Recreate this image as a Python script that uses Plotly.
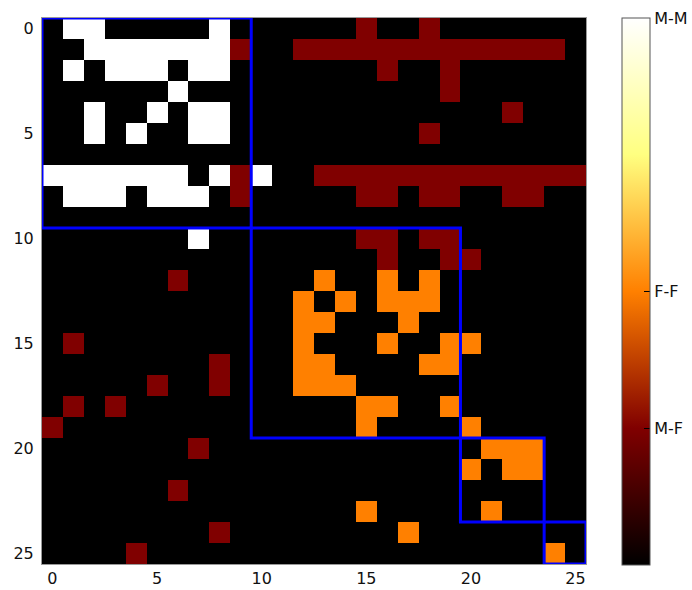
import plotly.graph_objects as go

n = 26
# category codes
NONE, MF, FF, MM = 0, 1, 2, 4
cbar_vals = [1, 2, 4]
cbar_text = ["M-F", "F-F", "M-M"]

# M-M cells: row -> columns
mm_cells = {
    0: [1, 2, 8],
    1: [2, 3, 4, 5, 6, 7, 8],
    2: [1, 3, 4, 5, 7, 8],
    3: [6],
    4: [2, 5, 7, 8],
    5: [2, 4, 7, 8],
    7: [0, 1, 2, 3, 4, 5, 6, 8, 10],
    8: [1, 2, 3, 5, 6, 7],
    10: [7],
}
# M-F cells
mf_cells = {
    0: [15, 18],
    1: [9] + list(range(12, 25)),
    2: [16, 19],
    3: [19],
    4: [22],
    5: [18],
    7: [9] + list(range(13, 26)),
    8: [9, 15, 16, 18, 19, 22, 23],
    10: [15, 16, 18, 19],
    11: [16, 19, 20],
    12: [6],
    15: [1],
    16: [8],
    17: [5, 8],
    18: [1, 3],
    19: [0],
    20: [7],
    22: [6],
    24: [8],
    25: [4],
}
# F-F cells
ff_cells = {
    12: [13, 16, 18],
    13: [12, 14, 16, 17, 18],
    14: [12, 13, 17],
    15: [12, 16, 19, 20],
    16: [12, 13, 18, 19],
    17: [12, 13, 14],
    18: [15, 16, 19],
    19: [15, 20],
    20: [21, 22, 23],
    21: [20, 22, 23],
    23: [15, 21],
    24: [17],
    25: [24],
}
# group boundaries (blue boxes)
group_bounds = [0, 10, 20, 24, 26]

z = [[NONE] * n for _ in range(n)]
for cells, code in ((mm_cells, MM), (mf_cells, MF), (ff_cells, FF)):
    for r, cols in cells.items():
        for c in cols:
            z[r][c] = code

afmhot = [
    [0.0, "rgb(0,0,0)"],
    [0.25, "rgb(128,0,0)"],
    [0.5, "rgb(255,128,0)"],
    [0.75, "rgb(255,255,128)"],
    [1.0, "rgb(255,255,255)"],
]

fig = go.Figure()
fig.add_trace(go.Heatmap(
    z=z, x=list(range(n)), y=list(range(n)),
    colorscale=afmhot, zmin=0, zmax=4,
    hoverinfo="skip",
    colorbar=dict(
        x=(621.5 - 42) / 544, xanchor="left", xpad=0,
        y=1, yanchor="top", ypad=0,
        len=547, lenmode="pixels",
        thickness=28, thicknessmode="pixels",
        outlinecolor="#555", outlinewidth=1,
        tickvals=cbar_vals, ticktext=cbar_text,
        ticks="inside", ticklen=6, tickcolor="#000", tickwidth=1,
        tickfont=dict(family="DejaVu Sans", size=16, color="#111"),
    ),
))

for a, b in zip(group_bounds[:-1], group_bounds[1:]):
    fig.add_shape(type="rect", xref="x", yref="y",
                  x0=a - 0.5, x1=b - 0.5, y0=a - 0.5, y1=b - 0.5,
                  line=dict(color="#0000ff", width=3), layer="above")

fig.update_layout(
    width=692, height=590,
    margin=dict(l=42, r=106, t=18, b=26, autoexpand=False),
    paper_bgcolor="white", plot_bgcolor="black",
    font=dict(family="DejaVu Sans", size=16, color="#111"),
    showlegend=False,
)
fig.update_xaxes(range=[-0.5, 25.5], tickvals=[0, 5, 10, 15, 20, 25],
                 ticks="", showgrid=False, zeroline=False,
                 showline=True, linecolor="#999", linewidth=1, mirror=True,
                 tickfont=dict(size=16), automargin=False)
fig.update_yaxes(range=[25.5, -0.5], tickvals=[0, 5, 10, 15, 20, 25],
                 ticks="", showgrid=False, zeroline=False,
                 showline=True, linecolor="#999", linewidth=1, mirror=True,
                 tickfont=dict(size=16), ticklabelstandoff=4, automargin=False)

fig.write_html("out.html",
               config={"displayModeBar": False},
               post_script="document.body.style.margin='0';"
                           "document.body.style.overflow='hidden';")
